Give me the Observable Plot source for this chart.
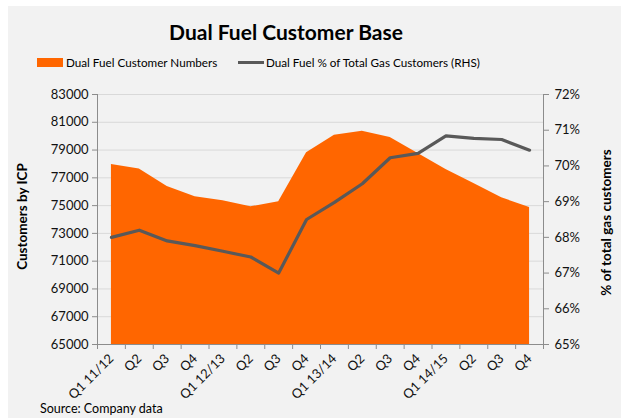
<!DOCTYPE html>
<html><head><meta charset="utf-8">
<script src="https://cdn.jsdelivr.net/npm/d3@7"></script>
<script src="https://cdn.jsdelivr.net/npm/@observablehq/plot@0.6"></script>
<style>
body{margin:0;background:#fff;font-family:Lato,"Open Sans",sans-serif;color:#000}
#wrap{position:relative;width:624px;height:418px;overflow:hidden}
#bg{position:absolute;left:8px;top:6px;right:3px;bottom:0;background:#f2f2f2}
#chart{position:absolute;left:0;top:0}
.t{position:absolute;white-space:nowrap}
#title{left:0;width:572px;top:21px;text-align:center;font-weight:bold;font-size:21px;line-height:21px}
.leg{top:55px;font-size:11.7px;line-height:14px}
.sw1{position:absolute;left:37px;top:58px;width:26px;height:9px;background:#ff6600}
.sw2{position:absolute;left:238px;top:61px;width:26px;height:3px;background:#595959}
.ylab{font-weight:bold;font-size:13.5px;line-height:15px;transform-origin:center center}
#cap{left:40px;top:402px;font-size:12.5px;line-height:14px}
</style></head>
<body>
<div id="wrap">
  <div id="bg"></div>
  <div id="chart"></div>
  <div class="t" id="title">Dual Fuel Customer Base</div>
  <div class="sw1"></div>
  <div class="t leg" style="left:66px">Dual Fuel Customer Numbers</div>
  <div class="sw2"></div>
  <div class="t leg" style="left:266px">Dual Fuel % of Total Gas Customers (RHS)</div>
  <div class="t ylab" id="yl">Customers by ICP</div>
  <div class="t ylab" id="yr">% of total gas customers</div>
  <div class="t" id="cap">Source: Company data</div>
</div>
<script>
const quarters = ["Q1 11/12","Q2","Q3","Q4","Q1 12/13","Q2","Q3","Q4","Q1 13/14","Q2","Q3","Q4","Q1 14/15","Q2","Q3","Q4"];
const customerNumbers = [77960, 77630, 76380, 75630, 75350, 74910, 75270, 78800, 80070, 80360, 79910, 78750, 77600, 76600, 75560, 74870];
const pctOfGas = [68.0, 68.2, 67.9, 67.77, 67.61, 67.45, 67.0, 68.5, 68.98, 69.5, 70.23, 70.35, 70.84, 70.77, 70.74, 70.44];
const leftTicks = [65000, 67000, 69000, 71000, 73000, 75000, 77000, 79000, 81000, 83000];
const rightTicks = [65, 66, 67, 68, 69, 70, 71, 72];

const L0 = 65000, L1 = 83000, R0 = 65, R1 = 72;
const toLeft = p => L0 + (p - R0) * (L1 - L0) / (R1 - R0);
const toRight = v => R0 + (v - L0) * (R1 - R0) / (L1 - L0);

const rows = quarters.map((q, i) => ({i, q, v: customerNumbers[i], p: pctOfGas[i]}));
const idx = d3.range(quarters.length);
const bounds = d3.range(quarters.length + 1).map(k => k - 0.5);
const axisGray = "#8c8c8c";

const chart = Plot.plot({
  width: 624, height: 418,
  marginLeft: 97, marginRight: 81, marginTop: 94, marginBottom: 74,
  style: {background: "transparent", fontFamily: "Lato, 'Open Sans', sans-serif", fontSize: "13px", color: "#000"},
  x: {type: "linear", domain: [-0.5, quarters.length - 0.5], axis: null},
  y: {domain: [L0, L1], axis: null},
  marks: [
    Plot.gridY(leftTicks, {stroke: "#d9d9d9", strokeOpacity: 1, strokeWidth: 1}),
    Plot.area(rows, {x1: "i", y1: L0, y2: "v", fill: "#ff6600", fillOpacity: 1}),
    Plot.line(rows, {x: "i", y: d => toLeft(d.p), stroke: "#595959", strokeWidth: 3.2, strokeLinejoin: "round"}),
    Plot.ruleX([-0.5], {stroke: axisGray}),
    Plot.ruleX([quarters.length - 0.5], {stroke: axisGray}),
    Plot.ruleY([L0], {stroke: axisGray}),
    Plot.axisY(leftTicks, {anchor: "left", tickSize: 5, tickPadding: 4, tickFormat: d => String(d), stroke: axisGray, fill: "#111", label: null}),
    Plot.axisY(rightTicks.map(toLeft), {anchor: "right", tickSize: 5, tickPadding: 6, tickFormat: d => Math.round(toRight(d)) + "%", stroke: axisGray, fill: "#111", label: null}),
    Plot.axisX(bounds, {anchor: "bottom", tickSize: 5, tickFormat: () => "", stroke: axisGray, label: null}),
    Plot.axisX(idx, {anchor: "bottom", tickSize: 0, tickPadding: 12, tickRotate: -45, tickFormat: i => quarters[i], fill: "#111", label: null})
  ]
});
document.getElementById("chart").appendChild(chart);

// rotated axis titles
const yl = document.getElementById("yl");
const yr = document.getElementById("yr");
function place(el, cx, cy) {
  const w = el.offsetWidth, h = el.offsetHeight;
  el.style.left = (cx - w / 2) + "px";
  el.style.top = (cy - h / 2) + "px";
  el.style.transform = "rotate(-90deg)";
}
place(yl, 22, 216);
place(yr, 606, 222);
</script>
</body></html>
